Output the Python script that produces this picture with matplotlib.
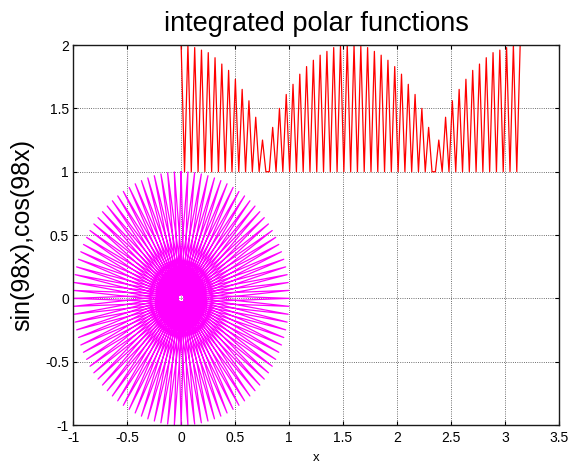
import matplotlib
matplotlib.use("Agg")
import matplotlib.pyplot as plt
import numpy as np

plt.rcParams['font.family'] = ['Liberation Sans', 'DejaVu Sans']

# red trace: 101 samples over [0, pi]
x_red = np.linspace(0, np.pi, 101)
y_red = [2.00, 1, 2.00, 1, 1.98, 1, 1.96, 1, 1.94, 1,
         1.90, 1, 1.85, 1, 1.80, 1, 1.73, 1, 1.65, 1,
         1.56, 1, 1.43, 1, 1.25, 1.00, 1, 1.35, 1, 1.50,
         1, 1.61, 1, 1.69, 1, 1.77, 1, 1.83, 1, 1.88,
         1, 1.92, 1, 1.95, 1, 1.98, 1, 1.99, 1, 2.00,
         1, 2.00, 1, 1.99, 1, 1.98, 1, 1.95, 1, 1.92,
         1, 1.88, 1, 1.83, 1, 1.77, 1, 1.69, 1, 1.61,
         1, 1.50, 1, 1.35, 1, 1.00, 1.25, 1, 1.43, 1,
         1.56, 1, 1.65, 1, 1.73, 1, 1.80, 1, 1.85, 1,
         1.90, 1, 1.94, 1, 1.96, 1, 1.98, 1, 2.00, 1,
         2.00]

# magenta trace: angle (deg, clockwise from +y) of each point on the unit circle
ang_mag = [0, 176.4, 352.8, 169.2, 345.6, 162, 338.4, 154.8, 331.2, 147.6,
           324, 140.4, 316.8, 133.2, 309.6, 126, 302.4, 118.8, 295.2, 111.6,
           288, 104.4, 280.8, 97.2, 273.6, 90, 266.4, 82.8, 259.2, 75.6,
           252, 68.4, 244.8, 61.2, 237.6, 54, 230.4, 46.8, 223.2, 39.6,
           216, 32.4, 208.8, 25.2, 201.6, 18, 194.4, 10.8, 187.2, 3.6,
           180, 356.4, 172.8, 349.2, 165.6, 342, 158.4, 334.8, 151.2, 327.6,
           144, 320.4, 136.8, 313.2, 129.6, 306, 122.4, 298.8, 115.2, 291.6,
           108, 284.4, 100.8, 277.2, 93.6, 270, 86.4, 262.8, 79.2, 255.6,
           72, 248.4, 64.8, 241.2, 57.6, 234, 50.4, 226.8, 43.2, 219.6,
           36, 212.4, 28.8, 205.2, 21.6, 198, 14.4, 190.8, 7.2, 183.6,
           0]

rad = np.deg2rad(ang_mag)
x_mag = np.sin(rad)
y_mag = np.cos(rad)

xticks = [-1, -0.5, 0, 0.5, 1, 1.5, 2, 2.5, 3, 3.5]
yticks = [-1, -0.5, 0, 0.5, 1, 1.5, 2]

fig = plt.figure(figsize=(5.72, 4.62), dpi=100)
ax = fig.add_axes([0.128, 0.080, 0.849, 0.8225])

ax.plot(x_red, y_red, color='#ff0000', lw=0.9)
ax.plot(x_mag, y_mag, color='#ff00ff', lw=0.9)

ax.set_xlim(-1, 3.5)
ax.set_ylim(-1, 2)
ax.set_xticks(xticks)
ax.set_yticks(yticks)
ax.set_xticklabels(['-1', '-0.5', '0', '0.5', '1', '1.5', '2', '2.5', '3', '3.5'])
ax.set_yticklabels(['-1', '-0.5', '0', '0.5', '1', '1.5', '2'])
ax.tick_params(direction='in', length=3, width=0.8, labelsize=10,
               top=True, right=True, pad=3)
ax.tick_params(axis='x', pad=4)
ax.grid(True, linestyle=':', color='0.25', linewidth=0.6)
for s in ax.spines.values():
    s.set_linewidth(1.0)
    s.set_color('0.1')

ax.set_title('integrated polar functions', fontsize=19.5, pad=10)
ax.set_ylabel('sin(98x),cos(98x)', fontsize=18, labelpad=8)
ax.set_xlabel('x', fontsize=9.5, labelpad=5)

fig.savefig('out.png', dpi=100)
